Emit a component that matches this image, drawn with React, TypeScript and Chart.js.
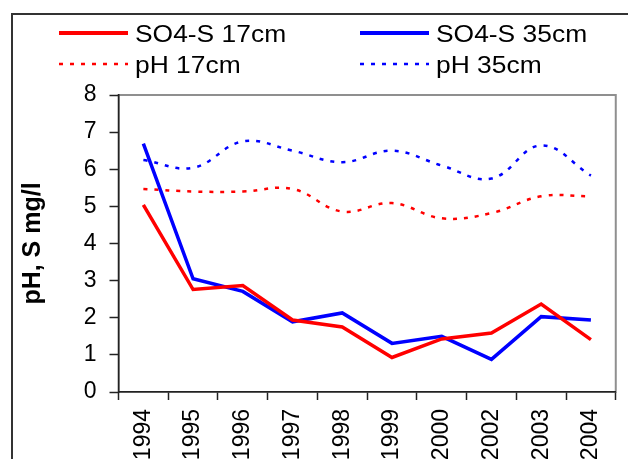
import React, { useEffect, useRef } from "react";
import { Chart, registerables } from "chart.js";

Chart.register(...registerables);

const years = ["1994", "1995", "1996", "1997", "1998", "1999", "2000", "2002", "2003", "2004"];
const so4S17 = [5.04, 2.76, 2.87, 1.94, 1.75, 0.93, 1.43, 1.59, 2.37, 1.41];
const so4S35 = [6.69, 3.05, 2.71, 1.89, 2.13, 1.31, 1.5, 0.88, 2.03, 1.94];
const pH17 = [5.47, 5.4, 5.4, 5.47, 4.86, 5.09, 4.68, 4.82, 5.27, 5.27];
const pH35 = [6.25, 6.04, 6.75, 6.5, 6.19, 6.5, 6.1, 5.75, 6.64, 5.83];
const seriesLabels = ["SO4-S 17cm", "SO4-S 35cm", "pH 17cm", "pH 35cm"];
const axisTitle = "pH, S mg/l";

const FONT = "'Liberation Sans', Arial, sans-serif";

const framePlugin = {
  id: "frames",
  beforeDraw(chart: any) {
    const { ctx, chartArea } = chart;
    ctx.save();
    ctx.strokeStyle = "#333";
    ctx.lineWidth = 2;
    ctx.strokeRect(12, 14, 800, 700);
    ctx.strokeStyle = "#8f8f8f";
    ctx.lineWidth = 2;
    ctx.strokeRect(chartArea.left, chartArea.top, chartArea.right - chartArea.left, chartArea.bottom - chartArea.top);
    ctx.restore();
  },
};

const legendPlugin = {
  id: "gridLegend",
  afterDraw(chart: any) {
    const { ctx } = chart;
    const colX = [59, 360];
    const rowY = [33, 64];
    const lineLen = 69;
    ctx.save();
    chart.data.datasets.forEach((ds: any, i: number) => {
      const col = i % 2;
      const row = Math.floor(i / 2);
      const x = colX[col];
      const y = rowY[row];
      ctx.strokeStyle = ds.borderColor;
      ctx.lineWidth = ds.borderDash && ds.borderDash.length ? 2.5 : 4;
      ctx.setLineDash(ds.borderDash || []);
      ctx.beginPath();
      ctx.moveTo(x, y);
      ctx.lineTo(x + lineLen, y);
      ctx.stroke();
      ctx.setLineDash([]);
      ctx.fillStyle = "#000";
      ctx.font = `24px ${FONT}`;
      ctx.textBaseline = "alphabetic";
      ctx.textAlign = "left";
      ctx.save();
      ctx.translate(x + lineLen + 7, y + 8.5);
      ctx.scale(1.1, 1);
      ctx.fillText(ds.label, 0, 0);
      ctx.restore();
    });
    ctx.restore();
  },
};

export default function App() {
  const ref = useRef<HTMLCanvasElement | null>(null);

  useEffect(() => {
    if (!ref.current) return;
    const chart = new Chart(ref.current, {
      type: "line",
      data: {
        labels: years,
        datasets: [
          {
            label: seriesLabels[0],
            data: so4S17,
            borderColor: "#ff0000",
            borderWidth: 3.5,
            pointRadius: 0,
            tension: 0,
          },
          {
            label: seriesLabels[1],
            data: so4S35,
            borderColor: "#0000ff",
            borderWidth: 3.5,
            pointRadius: 0,
            tension: 0,
          },
          {
            label: seriesLabels[2],
            data: pH17,
            borderColor: "#ff0000",
            borderWidth: 2.5,
            borderDash: [4, 7],
            pointRadius: 0,
            tension: 0.4,
          },
          {
            label: seriesLabels[3],
            data: pH35,
            borderColor: "#0000ff",
            borderWidth: 2.5,
            borderDash: [4, 7],
            pointRadius: 0,
            tension: 0.4,
          },
        ],
      },
      options: {
        animation: false,
        responsive: false,
        devicePixelRatio: 1,
        layout: { padding: { left: 12, top: 95, right: 10, bottom: 0 } },
        plugins: {
          legend: { display: false },
          tooltip: { enabled: false },
        },
        scales: {
          x: {
            type: "category",
            offset: true,
            grid: {
              offset: true,
              drawOnChartArea: false,
              drawTicks: true,
              tickLength: 8,
              color: "#222",
              tickWidth: 1.5,
            },
            border: { display: true, color: "#222", width: 1.5 },
            ticks: {
              color: "#000",
              font: { family: FONT, size: 23 },
              minRotation: 90,
              maxRotation: 90,
              autoSkip: false,
              padding: 9,
            },
            afterFit: (scale: any) => {
              scale.height = 67;
            },
          },
          y: {
            min: 0,
            max: 8,
            grid: {
              drawOnChartArea: false,
              drawTicks: true,
              tickLength: 9,
              color: "#222",
              tickWidth: 1.5,
            },
            border: { display: true, color: "#222", width: 1.5 },
            ticks: {
              stepSize: 1,
              color: "#000",
              font: { family: FONT, size: 23 },
              padding: 13,
            },
            title: {
              display: true,
              text: axisTitle,
              color: "#000",
              font: { family: FONT, size: 25, weight: "bold" },
              padding: { top: 6, bottom: 0 },
            },
            afterFit: (scale: any) => {
              scale.width = 106.5;
            },
          },
        },
      },
      plugins: [framePlugin, legendPlugin],
    });
    return () => chart.destroy();
  }, []);

  return (
    <div style={{ position: "absolute", left: 0, top: 0, width: 628, height: 459, background: "#fff" }}>
      <canvas ref={ref} width={628} height={459} />
    </div>
  );
}
